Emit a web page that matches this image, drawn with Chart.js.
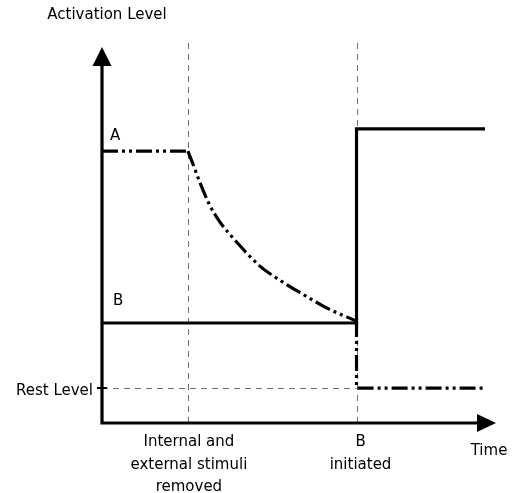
<!DOCTYPE html>
<html>
<head>
<meta charset="utf-8">
<script src="https://cdn.jsdelivr.net/npm/chart.js@4.4.1/dist/chart.umd.min.js"></script>
<style>
html, body { margin: 0; padding: 0; background: #fff; }
#wrap { width: 517px; height: 493px; }
</style>
</head>
<body>
<div id="wrap"><canvas id="activationChart" width="517" height="493"></canvas></div>
<script>

// DATA (time on x, activation on y, both 0..10)

const eventTimes = [2.18, 6.46];
const eventLabels = [["Internal and", "external stimuli", "removed"], ["B", "initiated"]];
const restLevel = 0.93;
const restLabel = "Rest Level";
const seriesNames = ["A", "B"];

const aPlateauX = [0, 2.18];
const aPlateauY = [7.23, 7.23];

const aDecayX = [2.18, 2.30, 2.48, 2.73, 2.99, 3.42, 4.00, 4.51, 5.09, 5.70, 6.46];
const aDecayY = [7.23, 6.91, 6.41, 5.80, 5.35, 4.81, 4.18, 3.80, 3.43, 3.06, 2.71];

const aAfterX = [6.46, 6.46, 9.72];
const aAfterY = [2.71, 0.93, 0.93];

const bX = [0, 6.46, 6.46, 9.72];
const bY = [2.66, 2.66, 7.82, 7.82];


function toPoints(xs, ys) {
    return xs.map((x, i) => ({ x: x, y: ys[i] }));
}

const dashA = [16, 4, 3, 4, 3, 4];

function lineSet(points, dash, smooth) {
    return {
        data: points,
        borderColor: "#000",
        borderWidth: 3.2,
        borderDash: dash,
        borderCapStyle: "butt",
        borderJoinStyle: "miter",
        pointRadius: 0,
        fill: false,
        clip: false,
        cubicInterpolationMode: smooth ? "monotone" : "default",
        tension: 0
    };
}

const FONT = '15px "DejaVu Sans"';

// reference lines, axes, arrows and texts
const schematic = {

    id: "schematic",

    beforeDatasetsDraw(chart) {
        const c = chart.ctx;
        const xs = chart.scales.x;
        const ys = chart.scales.y;
        const area = chart.chartArea;

        c.save();
        c.strokeStyle = "#6e6e6e";
        c.lineWidth = 1;
        c.setLineDash([6, 5]);

        eventTimes.forEach(t => {
            const px = Math.round(xs.getPixelForValue(t)) + 0.5;
            c.beginPath();
            c.moveTo(px, area.top - 4);
            c.lineTo(px, ys.getPixelForValue(0));
            c.stroke();
        });

        const ry = Math.round(ys.getPixelForValue(restLevel)) + 0.5;
        c.beginPath();
        c.moveTo(xs.getPixelForValue(0), ry);
        c.lineTo(xs.getPixelForValue(eventTimes[1]), ry);
        c.stroke();
        c.restore();
    },

    afterDatasetsDraw(chart) {
        const c = chart.ctx;
        const xs = chart.scales.x;
        const ys = chart.scales.y;
        const area = chart.chartArea;
        const x0 = xs.getPixelForValue(0);
        const y0 = ys.getPixelForValue(0);

        c.save();
        c.strokeStyle = "#000";
        c.fillStyle = "#000";
        c.lineWidth = 3.2;
        c.setLineDash([]);

        // axes
        c.beginPath();
        c.moveTo(x0, area.top + 16);
        c.lineTo(x0, y0);
        c.lineTo(area.right - 18, y0);
        c.stroke();

        // arrow heads
        c.beginPath();
        c.moveTo(x0, area.top);
        c.lineTo(x0 - 9.5, area.top + 19);
        c.lineTo(x0 + 9.5, area.top + 19);
        c.closePath();
        c.fill();

        c.beginPath();
        c.moveTo(area.right, y0);
        c.lineTo(area.right - 19, y0 - 9);
        c.lineTo(area.right - 19, y0 + 9);
        c.closePath();
        c.fill();

        // rest level tick
        const ry = ys.getPixelForValue(restLevel);
        c.lineWidth = 2;
        c.beginPath();
        c.moveTo(x0 - 5, ry);
        c.lineTo(x0 + 5, ry);
        c.stroke();

        // texts
        c.font = FONT;
        c.textBaseline = "alphabetic";

        c.textAlign = "center";
        c.fillText("Activation Level", x0 + 5, 19);

        c.textAlign = "left";
        c.fillText(seriesNames[0], x0 + 8, ys.getPixelForValue(aPlateauY[0]) - 11);
        c.fillText(seriesNames[1], x0 + 11, ys.getPixelForValue(bY[0]) - 18);

        c.textAlign = "right";
        c.fillText(restLabel, x0 - 9, ry + 7);

        c.textAlign = "center";
        const offsets = [1, 4];
        eventTimes.forEach((t, i) => {
            const px = xs.getPixelForValue(t) + offsets[i];
            eventLabels[i].forEach((line, j) => {
                c.fillText(line, px, y0 + 23 + j * 22.5);
            });
        });

        c.fillText("Time", area.right - 7, y0 + 32);

        c.restore();
    }

};

new Chart(document.getElementById("activationChart"), {

    type: "line",

    data: {
        datasets: [
            lineSet(toPoints(aPlateauX, aPlateauY), dashA, false),
            lineSet(toPoints(aDecayX, aDecayY), dashA, true),
            lineSet(toPoints(aAfterX, aAfterY), dashA, false),
            lineSet(toPoints(bX, bY), [], false)
        ]
    },

    options: {
        responsive: false,
        animation: false,
        devicePixelRatio: 1,
        layout: {
            padding: { left: 102, right: 21, top: 47, bottom: 70 }
        },
        plugins: {
            legend: { display: false },
            tooltip: { enabled: false }
        },
        scales: {
            x: { type: "linear", min: 0, max: 10, display: false },
            y: { type: "linear", min: 0, max: 10, display: false }
        }
    },

    plugins: [schematic]

});

</script>
</body>
</html>
